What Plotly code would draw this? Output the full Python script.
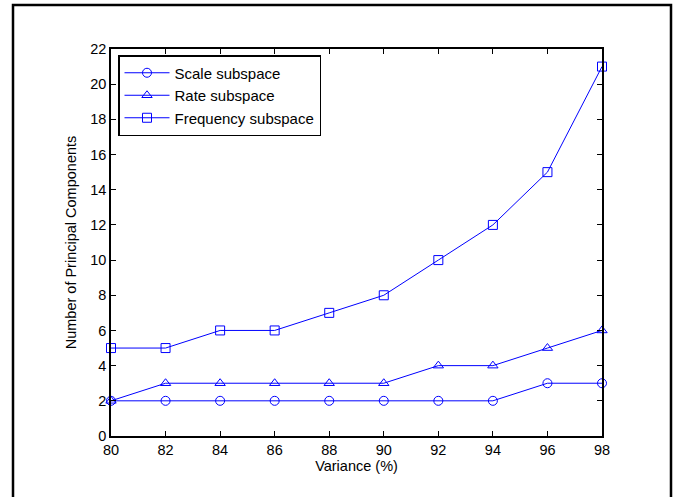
import plotly.graph_objects as go

variance = [80, 82, 84, 86, 88, 90, 92, 94, 96, 98]
scale_vals = [2, 2, 2, 2, 2, 2, 2, 2, 3, 3]
rate_vals = [2, 3, 3, 3, 3, 3, 4, 4, 5, 6]
freq_vals = [5, 5, 6, 6, 7, 8, 10, 12, 15, 21]
x_ticks = [80, 82, 84, 86, 88, 90, 92, 94, 96, 98]
y_ticks = list(range(0, 23, 2))

W, H = 679, 497
L, R, T, B = 111, 77, 49, 61
pw, ph = W - L - R, H - T - B
FONT = "Liberation Sans, Arial, Helvetica"

blue = "rgb(0,0,255)"
fig = go.Figure()
for name, vals, sym in [
    ("Scale subspace", scale_vals, "circle-open"),
    ("Rate subspace", rate_vals, "triangle-up-open"),
    ("Frequency subspace", freq_vals, "square-open"),
]:
    fig.add_trace(go.Scatter(
        x=variance, y=vals, name=name, mode="lines+markers",
        line=dict(color=blue, width=1),
        marker=dict(symbol=sym, size=9, color=blue, line=dict(width=1, color=blue)),
        cliponaxis=False,
    ))

axis_common = dict(
    showgrid=False, zeroline=False, showline=True, linecolor="black", linewidth=1.5,
    mirror="ticks", ticks="inside", ticklen=5, tickwidth=1, tickcolor="black",
    tickfont=dict(family=FONT, size=14.5, color="black"),
)
fig.update_xaxes(range=[80, 98], tickvals=x_ticks, title=dict(text="Variance (%)", standoff=2,
                 font=dict(family=FONT, size=14.5, color="black")), **axis_common)
fig.update_yaxes(range=[0, 22], tickvals=y_ticks, title=dict(text="Number of Principal Components", standoff=10,
                 font=dict(family=FONT, size=14.5, color="black")), **axis_common)

# outer frame
x0 = (13 - L) / pw
x1 = (671 - L) / pw
y1 = 1 + (T - 5) / ph
y0 = -(B + 20) / ph
fig.add_shape(type="rect", xref="paper", yref="paper", x0=x0, x1=x1, y0=y0, y1=y1,
              line=dict(color="black", width=2.5), layer="below")

fig.update_layout(
    width=W, height=H, margin=dict(l=L, r=R, t=T, b=B),
    paper_bgcolor="white", plot_bgcolor="white",
    font=dict(family=FONT, size=14, color="black"),
    legend=dict(x=(118 - L) / pw, y=(436 - 55) / ph, xanchor="left", yanchor="top",
                bordercolor="black", borderwidth=1.5, bgcolor="white",
                font=dict(family=FONT, size=15, color="black"),
                itemwidth=45, tracegroupgap=0),
    showlegend=True,
)
fig.write_html("out.html", config={"displayModeBar": False},
               post_script="document.body.style.margin='0';document.body.style.overflow='hidden';")
